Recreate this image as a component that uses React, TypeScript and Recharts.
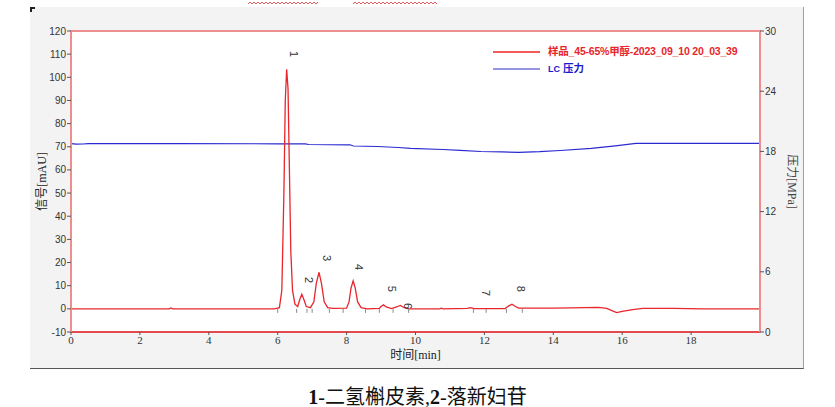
import React from 'react';
import { ComposedChart, Line, XAxis, YAxis, ReferenceArea, CartesianGrid } from 'recharts';

// Chromatogram signal (time in min, signal in mAU)
const signalTimes = [0, 1.0, 2.85, 2.9, 2.95, 4.0, 5.9, 6.05, 6.12, 6.18, 6.22, 6.26, 6.3, 6.34, 6.38, 6.43, 6.5, 6.58, 6.64, 6.7, 6.76, 6.83, 6.95, 7.05, 7.12, 7.2, 7.27, 7.35, 7.45, 7.6, 8.0, 8.07, 8.13, 8.19, 8.25, 8.32, 8.42, 8.6, 8.95, 9.0, 9.07, 9.15, 9.3, 9.45, 9.56, 9.66, 9.8, 10.7, 10.75, 10.8, 11.5, 11.6, 11.7, 12.6, 12.7, 12.8, 12.9, 13.0, 14.0, 14.5, 15.3, 15.55, 15.7, 15.84, 16.0, 16.3, 16.6, 17.5, 18.3, 20];
const signalValues = [0, 0, 0, 0.4, 0, 0, 0, 0.5, 8, 50, 90, 103.5, 95, 60, 25, 8, 2, 1, 4, 6.3, 4, 1, 0.5, 3, 11, 15.8, 11, 3, 0.5, 0.2, 0.3, 3, 9, 12.1, 9, 3, 0.5, 0, 0.2, 1, 1.7, 0.8, 0.1, 0.8, 1.5, 0.6, 0, 0, 0.3, 0, 0.2, 0.5, 0.1, 0.1, 1.2, 2, 1, 0.3, 0.3, 0.4, 0.6, 0.2, -0.8, -1.6, -1.1, -0.3, 0.2, 0.2, 0, 0];

// LC pressure (MPa)
const pressureTimes = [0, 0.15, 0.35, 0.5, 3, 6, 6.8, 6.9, 8.1, 8.2, 8.9, 9.5, 9.85, 10.8, 11.3, 11.9, 12.5, 13.0, 13.6, 14.2, 15.1, 15.8, 16.4, 17, 18, 19, 20];
const pressureValues = [18.78, 18.72, 18.74, 18.77, 18.77, 18.76, 18.75, 18.69, 18.66, 18.54, 18.49, 18.39, 18.31, 18.19, 18.1, 17.99, 17.95, 17.91, 17.97, 18.09, 18.31, 18.55, 18.79, 18.79, 18.8, 18.79, 18.79];

// Peak labels
const peakNames = ['1', '2', '3', '4', '5', '6', '7', '8'];
const peakLabelTimes = [6.47, 6.91, 7.43, 8.36, 9.32, 9.78, 12.05, 13.06];
const peakLabelValues = [110, 12.4, 21.9, 18.0, 8.6, 1.2, 6.8, 8.6];

// Integration markers on the baseline
const markerTimes = [6.0, 6.55, 6.85, 7.0, 7.5, 7.9, 8.55, 8.95, 9.35, 9.8, 11.68, 12.05, 12.64, 13.1];

const xTicks = [0, 2, 4, 6, 8, 10, 12, 14, 16, 18];
const leftTicks = [-10, 0, 10, 20, 30, 40, 50, 60, 70, 80, 90, 100, 110, 120];
const rightTicks = [0, 6, 12, 18, 24, 30];

const signalName = '样品_45-65%甲醇-2023_09_10 20_03_39';

const sans = "'Liberation Sans', 'Noto Sans CJK SC', sans-serif";
const serif = "'Liberation Serif', 'Noto Sans CJK SC', serif";

const PeakLabel = (props: any) => {
  const { cx, cy, index } = props;
  if (cx == null || cy == null) return <g key={`pl-${index}`} />;
  return (
    <text key={`pl-${index}`} x={cx} y={cy} transform={`rotate(90 ${cx} ${cy})`} textAnchor="middle" dominantBaseline="central" fontSize={11} fontFamily={sans} fill="#333">
      {peakNames[index]}
    </text>
  );
};

const Marker = (props: any) => {
  const { cx, cy, index } = props;
  if (cx == null || cy == null) return <g key={`mk-${index}`} />;
  return <line key={`mk-${index}`} x1={cx} x2={cx} y1={cy} y2={cy + 4} stroke="#8a8a8a" strokeWidth={1} />;
};

const squiggle = (x0: number, x1: number) => {
  let d = `M${x0} 4`;
  let up = true;
  for (let x = x0 + 2; x <= x1; x += 2) {
    d += ` L${x} ${up ? 2 : 4}`;
    up = !up;
  }
  return d;
};

export default function App() {
  const signalData = signalTimes.map((t, i) => ({ t, v: signalValues[i] }));
  const pressureData = pressureTimes.map((t, i) => ({ t, p: pressureValues[i] }));
  const labelData = peakLabelTimes.map((t, i) => ({ t, y: peakLabelValues[i] }));
  const markerData = markerTimes.map((t) => ({ t, m: 0 }));

  return (
    <div style={{ position: 'absolute', left: 0, top: 0, width: 835, height: 407, background: '#fff', overflow: 'hidden' }}>
      <svg width={835} height={8} style={{ position: 'absolute', left: 0, top: 0 }}>
        <path d={squiggle(248, 318)} stroke="#d33" fill="none" strokeWidth={0.8} />
        <path d={squiggle(353, 437)} stroke="#d33" fill="none" strokeWidth={0.8} />
      </svg>
      <div style={{ position: 'absolute', left: 30, top: 7, width: 773, height: 361, background: '#f3f3f3', borderRight: '1px solid #a0a0a0', borderBottom: '1px solid #555' }} />
      <div style={{ position: 'absolute', left: 30, top: 7, width: 3, height: 3, borderLeft: '2px solid #222', borderTop: '2px solid #222' }} />
      <ComposedChart width={835} height={370} margin={{ top: 31, right: 35, left: 31, bottom: 8 }} style={{ position: 'absolute', left: 0, top: 0 }}>
        <CartesianGrid horizontal={false} vertical={false} fill="#ffffff" />
        <XAxis
          dataKey="t"
          type="number"
          domain={[0, 20]}
          ticks={xTicks}
          allowDuplicatedCategory={false}
          height={30}
          tickSize={3}
          tickMargin={1}
          axisLine={{ stroke: '#e0363b', strokeWidth: 1.5 }}
          tickLine={{ stroke: '#555' }}
          tick={{ fontSize: 11, fontFamily: serif, fill: '#333' }}
          label={{ value: '时间[min]', position: 'insideBottom', offset: 3, fontSize: 12, fontFamily: serif, fill: '#222' }}
        />
        <YAxis
          yAxisId="left"
          type="number"
          domain={[-10, 120]}
          ticks={leftTicks}
          width={40}
          tickSize={4}
          tickMargin={1}
          axisLine={{ stroke: '#ec8d90', strokeWidth: 2 }}
          tickLine={{ stroke: '#555' }}
          tick={{ fontSize: 10, fontFamily: sans, fill: '#333' }}
          label={{ value: '信号[mAU]', angle: -90, position: 'insideLeft', offset: 11, fontSize: 12, fontFamily: serif, fill: '#222', style: { textAnchor: 'middle' } }}
        />
        <YAxis
          yAxisId="right"
          orientation="right"
          type="number"
          domain={[0, 30]}
          ticks={rightTicks}
          width={40}
          tickSize={4}
          tickMargin={1}
          axisLine={{ stroke: '#ec8d90', strokeWidth: 2 }}
          tickLine={{ stroke: '#555' }}
          tick={{ fontSize: 10, fontFamily: sans, fill: '#333' }}
          label={{ value: '压力[MPa]', angle: 90, position: 'insideRight', offset: 8, fontSize: 12, fontFamily: serif, fill: '#444', style: { textAnchor: 'middle' } }}
        />
        <ReferenceArea yAxisId="left" x1={0} x2={20} y1={-10} y2={120} fill="none" stroke="#ec8d90" strokeWidth={2} ifOverflow="visible" />
        <Line yAxisId="right" data={pressureData} dataKey="p" stroke="#2a2ad0" strokeWidth={1.2} dot={false} activeDot={false} isAnimationActive={false} />
        <Line yAxisId="left" data={signalData} dataKey="v" stroke="#e8262b" strokeWidth={1.3} dot={false} activeDot={false} isAnimationActive={false} />
        <Line yAxisId="left" data={markerData} dataKey="m" stroke="none" dot={<Marker />} activeDot={false} legendType="none" isAnimationActive={false} />
        <Line yAxisId="left" data={labelData} dataKey="y" stroke="none" dot={<PeakLabel />} activeDot={false} legendType="none" isAnimationActive={false} />
      </ComposedChart>
      <svg width={60} height={40} style={{ position: 'absolute', left: 490, top: 40 }}>
        <line x1={3} x2={50} y1={12} y2={12} stroke="#ee2222" strokeWidth={1.3} />
        <line x1={3} x2={50} y1={29} y2={29} stroke="#7070d8" strokeWidth={1.3} />
      </svg>
      <div style={{ position: 'absolute', left: 548, top: 43, fontFamily: sans, fontWeight: 'bold', fontSize: 10.5, lineHeight: '17px' }}>
        <div style={{ color: '#e8262b', letterSpacing: -0.2 }}>{signalName}</div>
        <div style={{ color: '#1a1acc' }}><span style={{ fontSize: 9 }}>LC</span> 压力</div>
      </div>
      <div style={{ position: 'absolute', left: 0, top: 381, width: 835, textAlign: 'center', fontSize: 20, fontFamily: serif, color: '#111' }}>
        <b>1</b>-二氢槲皮素,<b>2</b>-落新妇苷
      </div>
    </div>
  );
}
